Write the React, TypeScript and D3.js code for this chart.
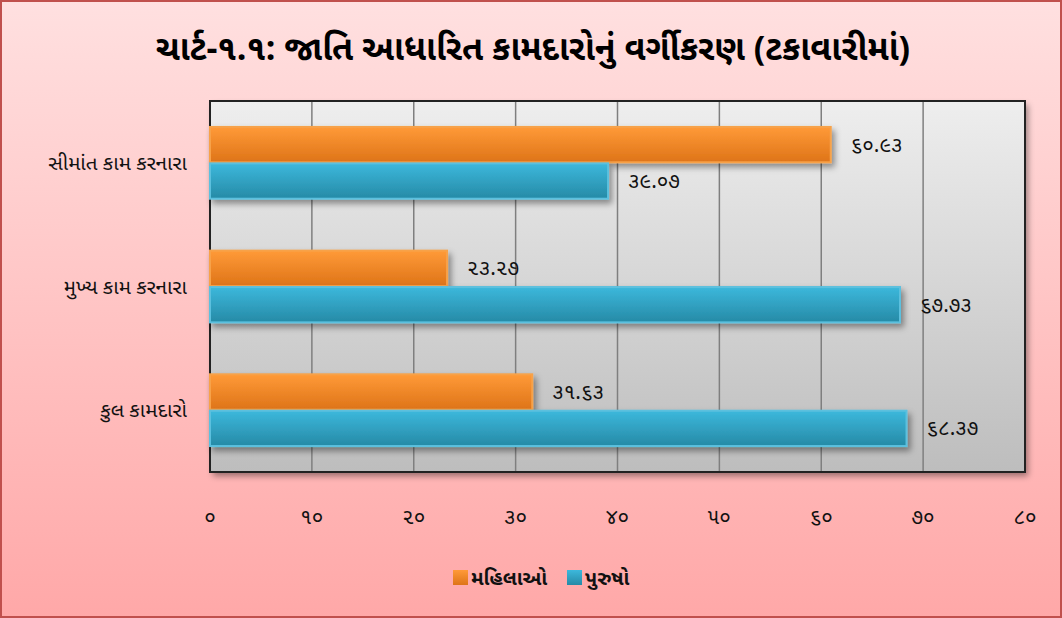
import React from "react";
import * as d3 from "d3";

const categories = ["સીમાંત કામ કરનારા", "મુખ્ય કામ કરનારા", "કુલ કામદારો"];
const seriesNames = ["મહિલાઓ", "પુરુષો"];
const women = [60.93, 23.27, 31.63];
const men = [39.07, 67.73, 68.37];
const womenLabels = ["૬૦.૯૩", "૨૩.૨૭", "૩૧.૬૩"];
const menLabels = ["૩૯.૦૭", "૬૭.૭૩", "૬૮.૩૭"];
const tickValues = [0, 10, 20, 30, 40, 50, 60, 70, 80];
const tickLabels = ["૦", "૧૦", "૨૦", "૩૦", "૪૦", "૫૦", "૬૦", "૭૦", "૮૦"];
const title = "ચાર્ટ-૧.૧:  જાતિ આધારિત કામદારોનું વર્ગીકરણ (ટકાવારીમાં)";

const W = 1062, H = 618;
const plot = { left: 210, right: 1025, top: 101, bottom: 472 };
const font = "'Noto Sans Gujarati', 'Noto Sans', sans-serif";

export default function App() {
  const x = d3.scaleLinear().domain([0, 80]).range([plot.left, plot.right]);
  const y = d3.scaleBand<string>().domain(categories).range([plot.top, plot.bottom]).paddingInner(0.42).paddingOuter(0.21);
  const sub = d3.scaleBand<number>().domain([0, 1]).range([0, y.bandwidth()]).paddingInner(0.03);
  const series = [
    { name: seriesNames[0], values: women, labels: womenLabels, fill: "url(#gOrange)", stroke: "#f7a24a" },
    { name: seriesNames[1], values: men, labels: menLabels, fill: "url(#gBlue)", stroke: "#5bc0de" },
  ];
  return (
    <svg width={W} height={H} style={{ display: "block", position: "absolute", left: 0, top: 0 }}>
      <defs>
        <linearGradient id="gBg" x1="0" y1="0" x2="0" y2="1">
          <stop offset="0" stopColor="#ffe0e0" />
          <stop offset="1" stopColor="#ffa8a8" />
        </linearGradient>
        <linearGradient id="gPlot" x1="0" y1="0" x2="0" y2="1">
          <stop offset="0" stopColor="#eeeeee" />
          <stop offset="1" stopColor="#bdbdbd" />
        </linearGradient>
        <linearGradient id="gOrange" x1="0" y1="0" x2="0" y2="1">
          <stop offset="0" stopColor="#ff9a38" />
          <stop offset="1" stopColor="#de7418" />
        </linearGradient>
        <linearGradient id="gBlue" x1="0" y1="0" x2="0" y2="1">
          <stop offset="0" stopColor="#3cb8dc" />
          <stop offset="1" stopColor="#268aa6" />
        </linearGradient>
        <filter id="shadow" x="-5%" y="-30%" width="115%" height="180%">
          <feDropShadow dx="3" dy="4" stdDeviation="3" floodColor="#000" floodOpacity="0.4" />
        </filter>
      </defs>
      <rect x={1} y={1} width={W - 2} height={H - 2} fill="url(#gBg)" stroke="#c0504d" strokeWidth={2} />
      <text x={533} y={60} textAnchor="middle" fontFamily={font} fontWeight="bold" fontSize={34} fill="#000">{title}</text>
      <rect x={plot.left} y={plot.top} width={plot.right - plot.left} height={plot.bottom - plot.top} fill="url(#gPlot)" filter="url(#shadow)" />
      {tickValues.slice(1, -1).map((t) => (
        <line key={t} x1={x(t)} x2={x(t)} y1={plot.top} y2={plot.bottom} stroke="#7f7f7f" strokeWidth={1.5} />
      ))}
      <rect x={plot.left} y={plot.top} width={plot.right - plot.left} height={plot.bottom - plot.top} fill="none" stroke="#222" strokeWidth={2} />
      {categories.map((c, ci) => (
        <g key={c}>
          {series.map((s, si) => {
            const by = (y(c) as number) + (sub(si) as number);
            return (
              <g key={si}>
                <rect x={x(0)} y={by} width={x(s.values[ci]) - x(0)} height={sub.bandwidth()} fill={s.fill} stroke={s.stroke} strokeWidth={2} filter="url(#shadow)" />
                <text x={x(s.values[ci]) + 20} y={by + sub.bandwidth() / 2 + 7} fontFamily={font} fontSize={21} fill="#111">{s.labels[ci]}</text>
              </g>
            );
          })}
          <text x={187} y={(y(c) as number) + y.bandwidth() / 2 + 7} textAnchor="end" fontFamily={font} fontSize={20.5} fill="#111">{c}</text>
        </g>
      ))}
      {tickValues.map((t, i) => (
        <text key={t} x={x(t)} y={524} textAnchor="middle" fontFamily={font} fontSize={21} fill="#111">{tickLabels[i]}</text>
      ))}
      <g>
        <rect x={453} y={570} width={15} height={15} fill="url(#gOrange)" />
        <text x={471} y={585} fontFamily={font} fontSize={20} fontWeight="bold" fill="#111">{seriesNames[0]}</text>
        <rect x={567} y={570} width={15} height={15} fill="url(#gBlue)" />
        <text x={585} y={585} fontFamily={font} fontSize={20} fontWeight="bold" fill="#111">{seriesNames[1]}</text>
      </g>
    </svg>
  );
}
